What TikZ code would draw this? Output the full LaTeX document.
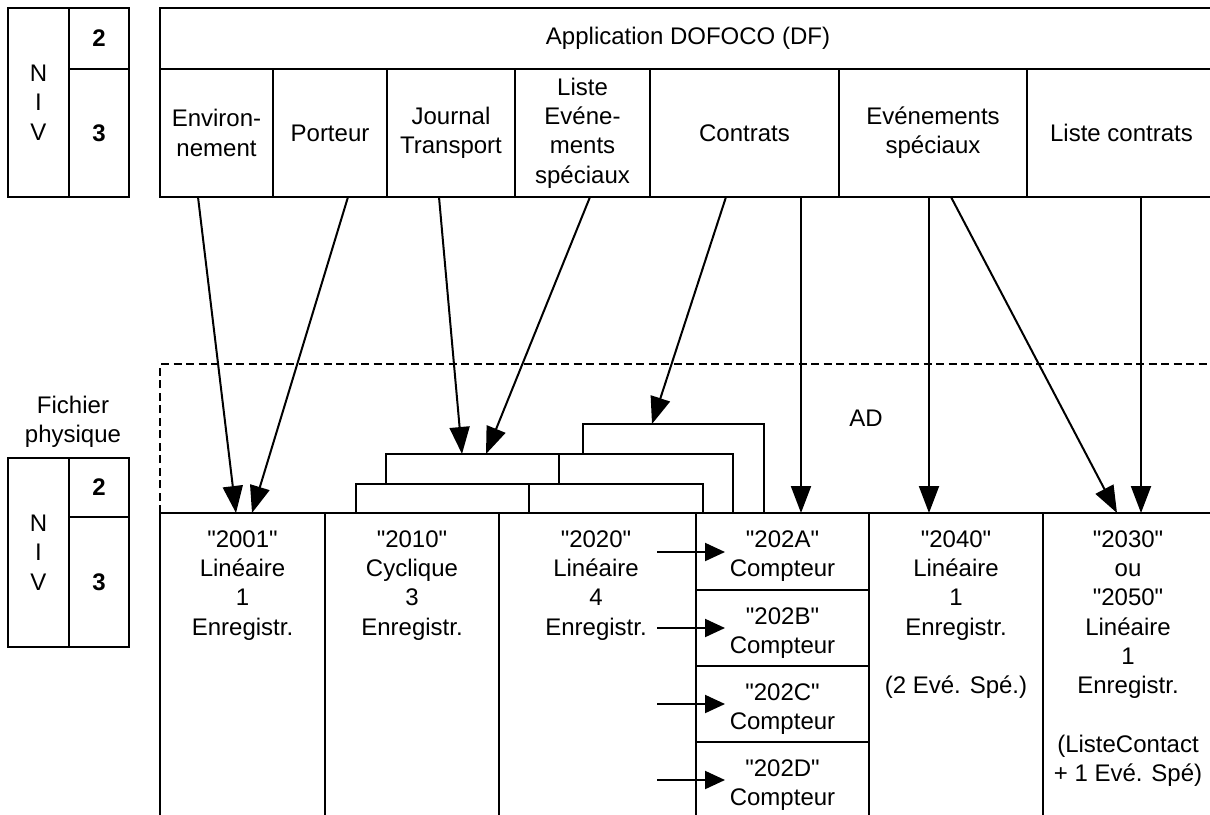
\documentclass[tikz,border=0pt]{standalone}
\usepackage{fontspec}
\setmainfont{Liberation Sans}[Ligatures=TeXOff]
\usetikzlibrary{arrows.meta}
\begin{document}
\begin{tikzpicture}[x=1pt,y=-1pt,line width=2pt,
  txt/.style={font=\fontsize{24}{29.3}\selectfont, align=center, inner sep=0pt},
  cell/.style={draw, line width=2pt, rectangle, inner sep=0pt, font=\fontsize{24}{29.3}\selectfont, align=center},
  bcell/.style={cell, font=\fontsize{24}{29.3}\selectfont\bfseries},
  frame/.style={draw, line width=2pt, rectangle, inner sep=0pt},
  arr/.style={line width=2pt, -{Triangle[length=27pt,width=20pt]}},
  sarr/.style={line width=2pt, -{Triangle[length=20pt,width=18pt]}},
  card/.style={draw, fill=white, line width=2pt},
  dashedline/.style={line width=2pt, dash pattern=on 8pt off 4.5pt}]
\useasboundingbox (0,0) rectangle (1210,814);
\clip (0,0) rectangle (1210,814);

% ---- NIV boxes (top)
\node[cell, minimum width=61pt, minimum height=189pt] (nivA) at (38.5,102.5) {N\\I\\V};
\node[bcell, minimum width=60pt, minimum height=61pt] (twoA) at (99,38.5) {2};
\node[bcell, minimum width=60pt, minimum height=128pt] (threeA) at (99,133) {3};

% ---- Application header
\node[cell, minimum width=1056pt, minimum height=61pt] (app) at (688,38.5) {Application DOFOCO (DF)};
\node[cell, minimum width=113pt, minimum height=128pt] (env) at (216.5,133) {Environ-\\nement};
\node[cell, minimum width=114pt, minimum height=128pt] (port) at (330,133) {Porteur};
\node[cell, minimum width=128pt, minimum height=128pt] (journ) at (451,133) {Journal\\Transport};
\node[cell, minimum width=135pt, minimum height=128pt] (liste) at (582.5,133) {Liste\\Evéne-\\ments\\spéciaux};
\node[cell, minimum width=189pt, minimum height=128pt] (contr) at (744.5,133) {Contrats};
\node[cell, minimum width=188pt, minimum height=128pt] (evsp) at (933,133) {Evénements\\spéciaux};
\node[cell, minimum width=189pt, minimum height=128pt] (lcon) at (1121.5,133) {Liste contrats};

% ---- Fichier physique
\node[txt, anchor=north] (fich) at (73,395) {Fichier\\physique};
\node[cell, minimum width=61pt, minimum height=189pt] (nivB) at (38.5,552.5) {N\\I\\V};
\node[bcell, minimum width=60pt, minimum height=59pt] (twoB) at (99,487.5) {2};
\node[bcell, minimum width=60pt, minimum height=130pt] (threeB) at (99,582) {3};

% ---- AD dashed zone
\draw[dashedline] (160,513) -- (160,364) -- (1216,364);
\node[txt] (ad) at (866,418) {AD};

% ---- stacked cards
\draw[card] (583,424) rectangle (764,513);
\draw[card] (386,454) rectangle (559,513);
\draw[card] (559,454) rectangle (733,513);
\draw[card] (356,484) rectangle (529,513);
\draw[card] (529,484) rectangle (703,513);

% ---- bottom files
\node[frame, minimum width=165pt, minimum height=307pt] (c2001) at (242.5,666.5) {};
\node[frame, minimum width=174pt, minimum height=307pt] (c2010) at (412,666.5) {};
\node[frame, minimum width=197pt, minimum height=307pt] (c2020) at (597.5,666.5) {};
\node[frame, minimum width=173pt, minimum height=77pt] (c202A) at (782.5,551.5) {};
\node[frame, minimum width=173pt, minimum height=76pt] (c202B) at (782.5,628) {};
\node[frame, minimum width=173pt, minimum height=76pt] (c202C) at (782.5,704) {};
\node[frame, minimum width=173pt, minimum height=78pt] (c202D) at (782.5,781) {};
\node[frame, minimum width=174pt, minimum height=307pt] (c2040) at (956,666.5) {};
\node[frame, minimum width=173pt, minimum height=307pt] (c2030) at (1129.5,666.5) {};

\node[txt, anchor=north] (t2001) at (242.5,529.4) {"2001"\\Linéaire\\1\\Enregistr.};
\node[txt, anchor=north] (t2010) at (412,529.4) {"2010"\\Cyclique\\3\\Enregistr.};
\node[txt, anchor=north] (t2020) at (596,529.4) {"2020"\\Linéaire\\4\\Enregistr.};
\node[txt, anchor=north] (t202A) at (782.5,529.4) {"202A"\\Compteur};
\node[txt, anchor=north] (t202B) at (782.5,606.4) {"202B"\\Compteur};
\node[txt, anchor=north] (t202C) at (782.5,682.4) {"202C"\\Compteur};
\node[txt, anchor=north] (t202D) at (782.5,758.4) {"202D"\\Compteur};
\node[txt, anchor=north] (t2040) at (956,529.4) {"2040"\\Linéaire\\1\\Enregistr.\\[29.3pt](2 Evé. Spé.)};
\node[txt, anchor=north] (t2030) at (1128,529.4) {"2030"\\ou\\"2050"\\Linéaire\\1\\Enregistr.\\[29.3pt](ListeContact\\+ 1 Evé. Spé)};

% ---- arrow end points
\coordinate (envS) at (198,197);   \coordinate (envE) at (236,513);
\coordinate (portS) at (348,197);  \coordinate (portE) at (252,513);
\coordinate (journS) at (439,197); \coordinate (journE) at (462,454);
\coordinate (listeS) at (590,197); \coordinate (listeE) at (486,454);
\coordinate (contrS) at (726,197); \coordinate (contrE) at (652,424);
\coordinate (contrV) at (801,197); \coordinate (contrVE) at (801,513);
\coordinate (evV) at (929,197);    \coordinate (evVE) at (929,513);
\coordinate (evS) at (951,197);    \coordinate (evSE) at (1117,513);
\coordinate (lconS) at (1141,197); \coordinate (lconE) at (1141,513);

\draw[arr] (envS) -- (envE);
\draw[arr] (portS) -- (portE);
\draw[arr] (journS) -- (journE);
\draw[arr] (listeS) -- (listeE);
\draw[arr] (contrS) -- (contrE);
\draw[arr] (contrV) -- (contrVE);
\draw[arr] (evV) -- (evVE);
\draw[arr] (evS) -- (evSE);
\draw[arr] (lconS) -- (lconE);

% ---- small arrows into counters
\coordinate (sA) at (657,552); \coordinate (eA) at (725,552);
\coordinate (sB) at (657,628); \coordinate (eB) at (725,628);
\coordinate (sC) at (657,704); \coordinate (eC) at (725,704);
\coordinate (sD) at (657,780); \coordinate (eD) at (725,780);
\draw[sarr] (sA) -- (eA);
\draw[sarr] (sB) -- (eB);
\draw[sarr] (sC) -- (eC);
\draw[sarr] (sD) -- (eD);
\end{tikzpicture}
\end{document}
